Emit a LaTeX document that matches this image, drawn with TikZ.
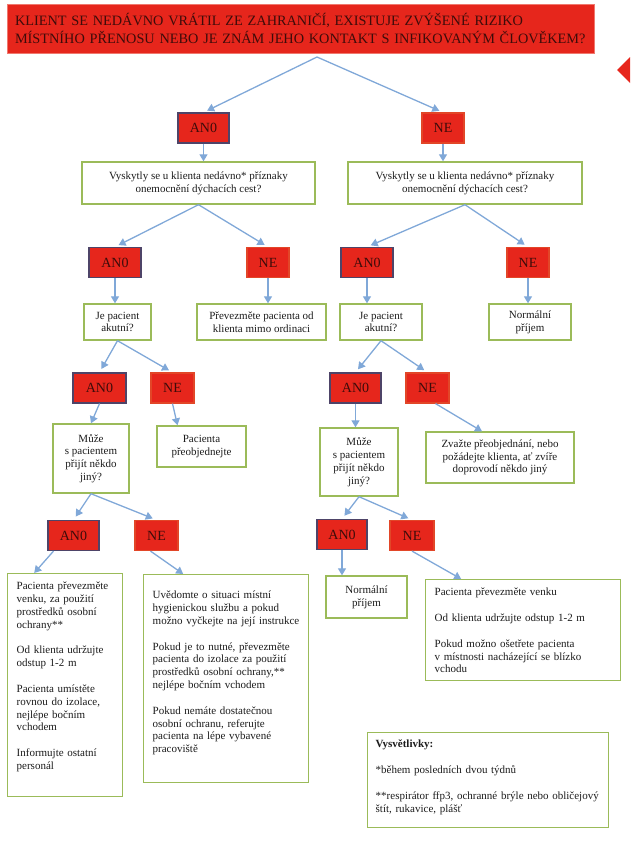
\documentclass[tikz,border=0pt]{standalone}
\usepackage{fontspec}
\setmainfont{Liberation Serif}
\usetikzlibrary{arrows.meta}
\definecolor{boxred}{RGB}{230,38,28}
\definecolor{redtext}{RGB}{62,12,10}
\definecolor{anoline}{RGB}{78,68,104}
\definecolor{neline}{RGB}{226,70,40}
\definecolor{topline}{RGB}{240,120,110}
\definecolor{boxgreen}{RGB}{155,187,89}
\definecolor{arrowblue}{RGB}{128,168,216}
\definecolor{bodytext}{RGB}{28,28,28}
\tikzset{
  redbox/.style={rectangle, fill=boxred, text=redtext, font=\fontsize{14}{16}\selectfont, minimum height=30pt, inner sep=0pt, line width=1.2pt},
  anobox/.style={redbox, draw=anoline, minimum width=51pt},
  nebox/.style={redbox, draw=neline, minimum width=43pt},
  greenbox/.style={rectangle, draw=boxgreen, line width=1.4pt, fill=white, align=center, font=\fontsize{11}{12.8}\selectfont, text=bodytext, inner sep=0pt},
  notebox/.style={greenbox, align=left, anchor=north west, inner xsep=9pt, inner ysep=7pt, text height=9pt},
  flow/.style={draw=arrowblue, line width=1.3pt, -{Triangle[length=7pt,width=8pt]}},
  branch/.style={flow, shorten >=4pt}
}
\begin{document}
\begin{tikzpicture}[x=1pt,y=-1pt]
\useasboundingbox (0,0) rectangle (630,841);
\node (top) at (300.5,28.5) [rectangle, fill=boxred, draw=topline, line width=0.8pt, text=redtext, minimum height=49pt, text width=581pt, inner xsep=3pt, align=left, font=\fontsize{14.3}{17.5}\selectfont]{\hspace*{5pt}KLIENT SE NEDÁVNO VRÁTIL ZE ZAHRANIČÍ, EXISTUJE ZVÝŠENÉ RIZIKO\\\hspace*{5pt}MÍSTNÍHO PŘENOSU NEBO JE ZNÁM JEHO KONTAKT S INFIKOVANÝM ČLOVĚKEM?};
\fill[boxred] (617,70) -- (630,57) -- (630,83) -- cycle;

\node (ano1) at (203.5,128) [anobox]{AN0};
\node (ne1) at (443,128) [nebox, minimum width=42pt]{NE};
\node (q1) at (198.5,183) [greenbox, minimum width=233pt, minimum height=42pt]{Vyskytly se u klienta nedávno* příznaky\\onemocnění dýchacích cest?};
\node (q2) at (465,183) [greenbox, minimum width=234pt, minimum height=42pt]{Vyskytly se u klienta nedávno* příznaky\\onemocnění dýchacích cest?};

\node (ano2) at (115,262.5) [anobox, minimum width=52pt]{AN0};
\node (ne2) at (268,262.5) [nebox, minimum width=42pt]{NE};
\node (ano3) at (367,262.5) [anobox, minimum width=52pt]{AN0};
\node (ne3) at (528,262.5) [nebox, minimum width=42pt]{NE};
\node (p1) at (117.5,322) [greenbox, minimum width=67pt, minimum height=36pt]{Je pacient\\akutní?};
\node (p2) at (261.5,322) [greenbox, minimum width=129pt, minimum height=36pt]{Převezměte pacienta od\\klienta mimo ordinaci};
\node (p3) at (381,322) [greenbox, minimum width=82pt, minimum height=36pt]{Je pacient\\akutní?};
\node (p4) at (530,322) [greenbox, minimum width=82pt, minimum height=36pt]{Normální\\příjem};

\node (ano4) at (99.5,388) [anobox, minimum width=53pt]{AN0};
\node (ne4) at (172.5,388) [nebox]{NE};
\node (ano5) at (355.5,388) [anobox]{AN0};
\node (ne5) at (427.5,388) [nebox]{NE};
\node (m1) at (91,458.5) [greenbox, minimum width=76pt, minimum height=69pt]{Může\\s pacientem\\přijít někdo\\jiný?};
\node (pp) at (201.5,446.5) [greenbox, minimum width=89pt, minimum height=41pt]{Pacienta\\přeobjednejte};
\node (m2) at (359,462) [greenbox, minimum width=78pt, minimum height=68pt]{Může\\s pacientem\\přijít někdo\\jiný?};
\node (zv) at (500,457.5) [greenbox, minimum width=148pt, minimum height=51pt]{Zvažte přeobjednání, nebo\\požádejte klienta, ať zvíře\\doprovodí někdo jiný};

\node (ano6) at (73.5,535.5) [anobox]{AN0};
\node (ne6) at (156.5,535.5) [nebox]{NE};
\node (ano7) at (342,534.5) [anobox, minimum width=50pt]{AN0};
\node (ne7) at (412,535.5) [nebox, minimum width=44pt]{NE};
\node (nr) at (366.5,597) [greenbox, minimum width=81pt, minimum height=42pt]{Normální\\příjem};

\node (lb) at (7,573) [notebox, text width=97pt, text depth=200pt]{Pacienta převezměte\\venku, za použití\\prostředků osobní\\ochrany**\\[13pt]Od klienta udržujte\\odstup 1-2 m\\[13pt]Pacienta umístěte\\rovnou do izolace,\\nejlépe bočním\\vchodem\\[13pt]Informujte ostatní\\personál};
\node (mb) at (143,574) [notebox, text width=147pt, text height=17pt, text depth=177pt]{Uvědomte o situaci místní\\hygienickou službu a pokud\\možno vyčkejte na její instrukce\\[13pt]Pokud je to nutné, převezměte\\pacienta do izolace za použití\\prostředků osobní ochrany,**\\nejlépe bočním vchodem\\[13pt]Pokud nemáte dostatečnou\\osobní ochranu, referujte\\pacienta na lépe vybavené\\pracoviště};
\node (rb) at (425,579) [notebox, text width=177pt, text depth=78pt]{Pacienta převezměte venku\\[13pt]Od klienta udržujte odstup 1-2 m\\[13pt]Pokud možno ošetřete pacienta\\v místnosti nacházející se blízko\\vchodu};
\node (lg) at (367,732) [notebox, inner xsep=8pt, text width=225pt, text height=8pt, text depth=73pt]{\textbf{Vysvětlivky:}\\[13pt]*během posledních dvou týdnů\\[13pt]**respirátor ffp3, ochranné brýle nebo obličejový\\štít, rukavice, plášť};

\coordinate (split0) at (317,57);
\draw[branch] (split0) -- (ano1.north);
\draw[branch] (split0) -- (ne1.north);
\draw[flow] (ano1.south) -- (ano1.south |- q1.north);
\draw[flow] (ne1.south) -- (ne1.south |- q2.north);

\draw[branch] (q1.south) -- (ano2.north);
\draw[branch] (q1.south) -- (ne2.north);
\draw[branch] (q2.south) -- (ano3.north);
\draw[branch] (q2.south) -- (ne3.north);
\draw[flow] (ano2.south) -- (ano2.south |- p1.north);
\draw[flow] (ne2.south) -- (ne2.south |- p2.north);
\draw[flow] (ano3.south) -- (ano3.south |- p3.north);
\draw[flow] (ne3.south) -- (ne3.south |- p4.north);

\draw[branch] (p1.south) -- (ano4.north);
\draw[branch] (p1.south) -- (ne4.north);
\draw[branch] (p3.south) -- (ano5.north);
\draw[branch] (p3.south) -- (ne5.north);
\draw[flow] (ano4.south) -- (m1.north);
\draw[flow] (ne4.south) -- ([xshift=-24pt]pp.north);
\draw[flow] (ano5.south) -- (ano5.south |- m2.north);
\draw[flow] ([xshift=8pt]ne5.south) -- ([xshift=-18pt]zv.north);

\draw[branch] (m1.south) -- (ano6.north);
\draw[branch] (m1.south) -- (ne6.north);
\draw[branch] (m2.south) -- (ano7.north);
\draw[branch] (m2.south) -- (ne7.north);
\draw[flow] ([xshift=-20pt]ano6.south) -- ([xshift=-31pt]lb.north);
\draw[flow] ([xshift=-6pt]ne6.south) -- ([xshift=-43pt]mb.north);
\draw[flow] (ano7.south) -- (ano7.south |- nr.north);
\draw[flow] (ne7.south) -- ([xshift=-62pt]rb.north);
\end{tikzpicture}
\end{document}
